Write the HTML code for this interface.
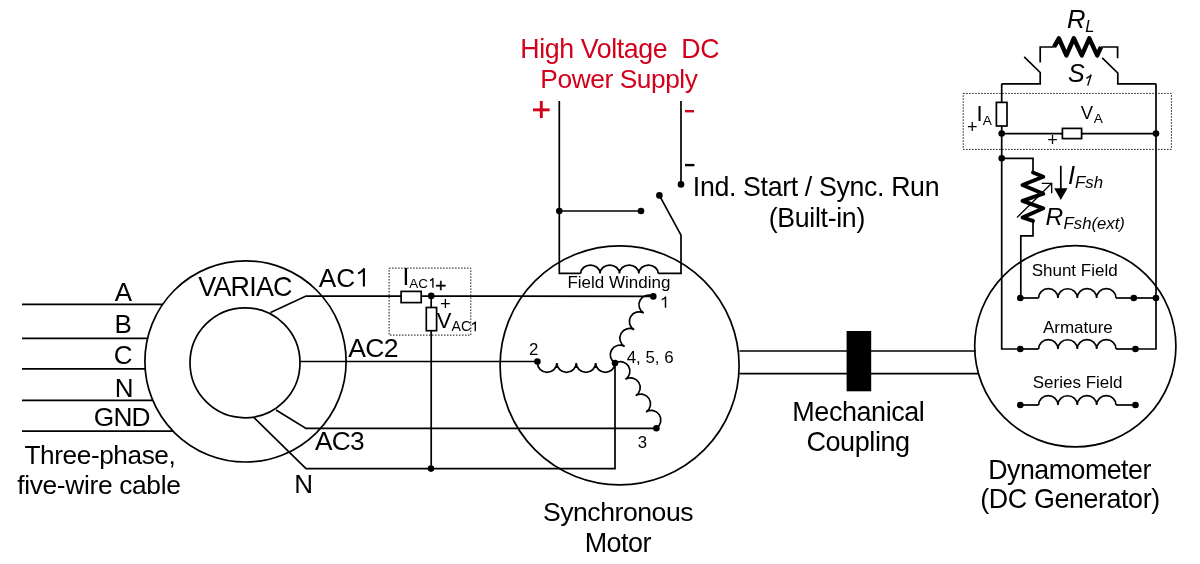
<!DOCTYPE html>
<html><head><meta charset="utf-8"><style>
html,body{margin:0;padding:0;background:#fff;overflow:hidden;}
svg{display:block;will-change:transform;}
text{font-family:"Liberation Sans",sans-serif;fill:currentColor;stroke:none;}
</style></head><body>
<svg width="1200" height="564" viewBox="0 0 1200 564">
<g fill="none" stroke="#000" color="#000">
<line x1="22" y1="304.4" x2="162.91" y2="304.4" stroke-width="1.7"/>
<line x1="22" y1="338.3" x2="147.89" y2="338.3" stroke-width="1.7"/>
<line x1="22" y1="368.8" x2="145.47" y2="368.8" stroke-width="1.7"/>
<line x1="22" y1="400.4" x2="153.07" y2="400.4" stroke-width="1.7"/>
<line x1="22" y1="431.2" x2="173.35" y2="431.2" stroke-width="1.7"/>
<text x="114.63" y="300.6" font-size="26.00" >A</text>
<text x="114.45" y="333" font-size="26.00" >B</text>
<text x="113.75" y="363.6" font-size="26.00" >C</text>
<text x="114.71" y="397" font-size="26.00" >N</text>
<text x="93.78" y="426.2" font-size="26.28" letter-spacing="-0.813" >GND</text>
<text x="24.51" y="463.9" font-size="26.19" letter-spacing="-0.405" >Three-phase,</text>
<text x="17.23" y="494.3" font-size="26.37" letter-spacing="-0.347" >five-wire cable</text>
<circle cx="245.5" cy="361.4" r="100.6" stroke-width="1.7"/>
<circle cx="245" cy="362.8" r="55" stroke-width="1.7"/>
<text x="198.28" y="295.7" font-size="26.87" letter-spacing="-0.761" >VARIAC</text>
<text x="318.83" y="286.6" font-size="26.20" >AC</text>
<path d="M363.9,286.5 V268.42 M364.53,268.32 Q361.87,272.02 358.1,273.4" stroke-width="2.1" stroke-linecap="butt"/>
<text x="348.25" y="356.8" font-size="26.55" letter-spacing="-0.732" >AC2</text>
<text x="315.05" y="450" font-size="26.25" letter-spacing="-0.726" >AC3</text>
<text x="294.21" y="493.2" font-size="26.00" >N</text>
<polyline points="270.6,312.4 306,296 653.3,296.3" stroke-width="1.7" />
<line x1="300" y1="361.5" x2="537.3" y2="361.5" stroke-width="1.7"/>
<polyline points="276,410 306,428.4 656.4,428.4" stroke-width="1.7" />
<polyline points="254,417.6 306,468.6 615,468.6 615,363" stroke-width="1.7" />
<rect x="389.1" y="268.1" width="81.7" height="67" stroke-width="1" stroke-dasharray="1.5,1.5" stroke="#111"/>
<line x1="431.2" y1="296" x2="431.2" y2="468.6" stroke-width="1.7"/>
<rect x="401.1" y="291.4" width="20.1" height="11.2" fill="#fff" stroke-width="1.7"/>
<rect x="426.3" y="307.5" width="10.3" height="23.2" fill="#fff" stroke-width="1.7"/>
<circle cx="431.2" cy="295.9" r="3.3" fill="#000" stroke="none"/>
<circle cx="431" cy="468.6" r="3.3" fill="#000" stroke="none"/>
<text x="402.45" y="284.5" font-size="24.50" >I</text>
<text x="409.37" y="287.65" font-size="13.42" >AC</text>
<path d="M432.9,287.65 V278.34 M433.3,278.27 Q431.88,279.95 430,280.6" stroke-width="1.35" stroke-linecap="butt"/>
<text x="435.26" y="292" font-size="19.00" style="stroke:#000;stroke-width:0.4">+</text>
<text x="440.05" y="310.2" font-size="18.50" >+</text>
<text x="436.76" y="328.3" font-size="22.00" >V</text>
<text x="451.47" y="331.3" font-size="14.16" >AC</text>
<path d="M475.3,331.3 V321.74 M475.7,321.67 Q474.18,323.65 472.1,324.4" stroke-width="1.35" stroke-linecap="butt"/>
<circle cx="619.6" cy="365.4" r="119.5" stroke-width="1.7"/>
<path transform="translate(615.1,363.1) rotate(-60.200)" d="M0,0 a9.608,9.608 0 0 1 19.216,0 a9.608,9.608 0 0 1 19.216,0 a9.608,9.608 0 0 1 19.216,0 a9.608,9.608 0 0 1 19.216,0" stroke-width="1.7"/>
<path transform="translate(615.1,363.1) rotate(180.000)" d="M0,0 a9.713,9.400 0 0 1 19.425,0 a9.713,9.400 0 0 1 19.425,0 a9.713,9.400 0 0 1 19.425,0 a9.713,9.400 0 0 1 19.425,0" stroke-width="1.7"/>
<path transform="translate(615.1,363.1) rotate(57.609)" d="M0,0 a9.637,9.637 0 0 1 19.274,0 a9.637,9.637 0 0 1 19.274,0 a9.637,9.637 0 0 1 19.274,0 a9.637,9.637 0 0 1 19.274,0" stroke-width="1.7"/>
<circle cx="653.3" cy="296.4" r="3.3" fill="#000" stroke="none"/>
<circle cx="537.4" cy="361.6" r="3.3" fill="#000" stroke="none"/>
<circle cx="615" cy="363.1" r="3.3" fill="#000" stroke="none"/>
<circle cx="656.4" cy="428.2" r="3.3" fill="#000" stroke="none"/>
<path d="M665.5,307.7 V296.66 M665.93,296.59 Q664.17,298.78 661.7,299.6" stroke-width="1.45" stroke-linecap="butt"/>
<text x="529.03" y="355.3" font-size="16.80" >2</text>
<text x="637.68" y="448.1" font-size="16.80" >3</text>
<text x="626.69" y="362.7" font-size="16.90" >4, 5, 6</text>
<polyline points="559.3,101 559.3,273.4 580.7,273.4" stroke-width="1.7" />
<path d="M580.7,273.4 a9.688,8.4 0 0 1 19.375,0 a9.688,8.4 0 0 1 19.375,0 a9.688,8.4 0 0 1 19.375,0 a9.688,8.4 0 0 1 19.375,0" stroke-width="1.7"/>
<polyline points="658.2,273.4 681,273.4 681,235.2 659.4,195.4" stroke-width="1.7" />
<text x="567.41" y="287.7" font-size="17.00" >Field Winding</text>
<text x="542.89" y="520.8" font-size="26.59" letter-spacing="-0.446" >Synchronous</text>
<text x="584.69" y="552" font-size="26.91" letter-spacing="-0.482" >Motor</text>
<g style="color:#d3001c">
<text x="520.21" y="57.5" font-size="26.75" letter-spacing="-0.395" >High Voltage&#160; DC</text>
<text x="540.34" y="88.2" font-size="26.30" letter-spacing="-0.424" >Power Supply</text>
</g>
<rect x="533" y="108.4" width="16.6" height="2.9" fill="#d3001c" stroke="none"/>
<rect x="539.85" y="101" width="2.9" height="17" fill="#d3001c" stroke="none"/>
<rect x="685" y="110" width="9" height="2.4" fill="#d3001c" stroke="none"/>
<line x1="681" y1="101" x2="681" y2="184.4" stroke-width="1.7"/>
<rect x="685" y="163.9" width="9.4" height="2.4" fill="#000" stroke="none"/>
<line x1="559.3" y1="211" x2="641" y2="211" stroke-width="1.7"/>
<circle cx="559.3" cy="211" r="3.3" fill="#000" stroke="none"/>
<circle cx="641" cy="211" r="3.3" fill="#000" stroke="none"/>
<circle cx="659.4" cy="195.4" r="3.3" fill="#000" stroke="none"/>
<circle cx="681" cy="184.4" r="3.3" fill="#000" stroke="none"/>
<text x="692.83" y="195.6" font-size="26.73" letter-spacing="-0.347" >Ind. Start / Sync. Run</text>
<text x="768.64" y="226.7" font-size="26.73" letter-spacing="-0.311" >(Built-in)</text>
<line x1="739.4" y1="351" x2="975.6" y2="351" stroke-width="1.7"/>
<line x1="739.4" y1="373.7" x2="978.5" y2="373.7" stroke-width="1.7"/>
<rect x="846.6" y="331" width="24.6" height="60.3" fill="#000" stroke="none"/>
<text x="792.29" y="420.5" font-size="26.98" letter-spacing="-0.429" >Mechanical</text>
<text x="806.43" y="451.3" font-size="27.04" letter-spacing="-0.431" >Coupling</text>
<circle cx="1075.3" cy="346.3" r="100.6" stroke-width="1.7"/>
<text x="988.21" y="478.8" font-size="26.75" letter-spacing="-0.481" >Dynamometer</text>
<text x="980.33" y="508.2" font-size="26.87" letter-spacing="-0.407" >(DC Generator)</text>
<polyline points="1020.3,298 1038.6,298" stroke-width="1.7" />
<path d="M1038.6,298 a9.675,9.3 0 0 1 19.350,0 a9.675,9.3 0 0 1 19.350,0 a9.675,9.3 0 0 1 19.350,0 a9.675,9.3 0 0 1 19.350,0" stroke-width="1.7"/>
<polyline points="1116,298 1135.5,298" stroke-width="1.7" />
<line x1="1133.8" y1="298" x2="1156" y2="298" stroke-width="1.7"/>
<circle cx="1020.3" cy="298" r="3.3" fill="#000" stroke="none"/>
<circle cx="1133.8" cy="298" r="3.3" fill="#000" stroke="none"/>
<circle cx="1156" cy="298" r="3.3" fill="#000" stroke="none"/>
<text x="1031.66" y="276" font-size="17.00" >Shunt Field</text>
<polyline points="1020.3,349 1038.6,349" stroke-width="1.7" />
<path d="M1038.6,349 a9.675,9.3 0 0 1 19.350,0 a9.675,9.3 0 0 1 19.350,0 a9.675,9.3 0 0 1 19.350,0 a9.675,9.3 0 0 1 19.350,0" stroke-width="1.7"/>
<polyline points="1116,349 1135.5,349" stroke-width="1.7" />
<polyline points="1001.7,83.8 1001.7,349 1020.3,349" stroke-width="1.7" />
<polyline points="1135.5,349 1156,349 1156,83.8" stroke-width="1.7" />
<circle cx="1020.3" cy="349" r="3.3" fill="#000" stroke="none"/>
<circle cx="1135.5" cy="349" r="3.3" fill="#000" stroke="none"/>
<text x="1042.91" y="333" font-size="17.00" >Armature</text>
<polyline points="1020.3,405 1038.6,405" stroke-width="1.7" />
<path d="M1038.6,405 a9.675,9.3 0 0 1 19.350,0 a9.675,9.3 0 0 1 19.350,0 a9.675,9.3 0 0 1 19.350,0 a9.675,9.3 0 0 1 19.350,0" stroke-width="1.7"/>
<polyline points="1116,405 1135.5,405" stroke-width="1.7" />
<circle cx="1020.3" cy="405" r="3.3" fill="#000" stroke="none"/>
<circle cx="1135.5" cy="405" r="3.3" fill="#000" stroke="none"/>
<text x="1032.78" y="387.6" font-size="17.00" >Series Field</text>
<polyline points="1001.7,83.8 1040.2,83.8 1040.2,72.5 1024.2,56.9" stroke-width="1.7" />
<polyline points="1156,83.8 1117.8,83.8 1117.8,73 1102.2,57.8" stroke-width="1.7" />
<polyline points="1040.2,62.4 1040.2,47 1054.5,47" stroke-width="1.7" />
<polyline points="1101,47 1117.6,47 1117.6,58.2" stroke-width="1.7" />
<polyline points="1054.1,46.8 1058.9,38.3 1066.4,55.4 1073.8,38.3 1081.8,55.4 1089.3,38.3 1097.2,55.4 1101,47" stroke-width="4.4" stroke-linejoin="round"/>
<text x="1066.99" y="27.9" font-size="25.50" font-style="italic" >R</text>
<text x="1085.23" y="31.6" font-size="16.50" font-style="italic" >L</text>
<text x="1067.94" y="81.6" font-size="25.00" font-style="italic" >S</text>
<path d="M1087.7,85.6 L1091.2,74.6 M1091.2,74.6 C1090.2,76.4 1088.6,77.6 1086.4,78.2" stroke-width="1.4"/>
<rect x="963.2" y="93.4" width="208.2" height="56" stroke-width="1" stroke-dasharray="1.5,1.5" stroke="#111"/>
<rect x="996.4" y="102.4" width="10.6" height="23.6" fill="#fff" stroke-width="1.7"/>
<line x1="1001.7" y1="133.6" x2="1156" y2="133.6" stroke-width="1.7"/>
<rect x="1062.4" y="128.4" width="19.2" height="10.2" fill="#fff" stroke-width="1.7"/>
<circle cx="1001.7" cy="133.6" r="3.3" fill="#000" stroke="none"/>
<circle cx="1156" cy="133.6" r="3.3" fill="#000" stroke="none"/>
<text x="976.44" y="121.4" font-size="22.00" >I</text>
<text x="982.86" y="124.7" font-size="13.60" >A</text>
<text x="966.95" y="132.7" font-size="18.00" >+</text>
<text x="1080.83" y="119.4" font-size="18.50" >V</text>
<text x="1093.76" y="123.4" font-size="13.60" >A</text>
<text x="1047.35" y="145.6" font-size="18.00" >+</text>
<circle cx="1001.7" cy="158.3" r="3.3" fill="#000" stroke="none"/>
<polyline points="1001.7,158.3 1033,158.3 1033,172.5" stroke-width="1.7" />
<polyline points="1033,172.5 1043.3,176.7 1022.5,185 1043.3,193.7 1022.5,200.8 1043.3,208.3 1022.5,217.5 1033,220.8" stroke-width="3.9" stroke-linejoin="round" stroke-linecap="round"/>
<polyline points="1033,220.8 1033,235.8 1020.8,235.8 1020.8,298" stroke-width="1.7" />
<line x1="1017" y1="217.5" x2="1051.7" y2="183.3" stroke-width="1.3"/>
<polyline points="1041.7,183.3 1051.7,183.3 1051.7,193.3" stroke-width="1.3" />
<line x1="1060.8" y1="165.8" x2="1060.8" y2="190" stroke-width="1.7"/>
<path d="M1054.2,188.3 L1067.5,188.3 L1060.8,200 Z" fill="#000" stroke="none"/>
<text x="1068.1" y="184.2" font-size="25.50" font-style="italic" >I</text>
<text x="1075.08" y="187.5" font-size="16.85" font-style="italic" >Fsh</text>
<text x="1045.55" y="225.3" font-size="24.50" font-style="italic" >R</text>
<text x="1063.59" y="229.2" font-size="16.72" font-style="italic" >Fsh(ext)</text>
</g>
</svg>
</body></html>
